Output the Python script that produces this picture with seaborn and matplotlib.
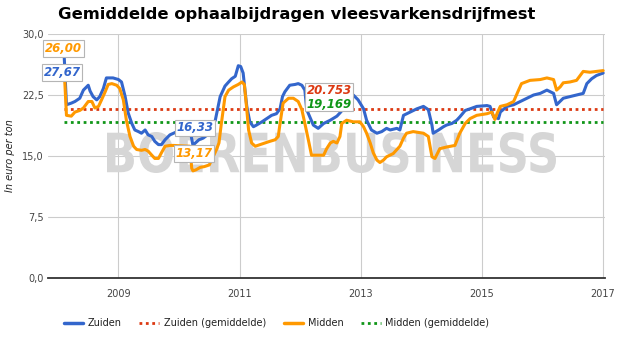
import numpy as np
import pandas as pd
import matplotlib
matplotlib.use("Agg")
import matplotlib.pyplot as plt
import seaborn as sns
from matplotlib.lines import Line2D
from matplotlib.textpath import TextPath
from matplotlib.patches import PathPatch, Rectangle
from matplotlib.font_manager import FontProperties
from matplotlib.transforms import Affine2D

# ---------------- data ----------------
zuiden = [
    (2008.10, 27.67), (2008.14, 21.3), (2008.22, 21.5), (2008.28, 21.7), (2008.36, 22.1),
    (2008.42, 23.1), (2008.50, 23.7), (2008.53, 23.0), (2008.58, 22.3), (2008.64, 21.9),
    (2008.69, 22.3), (2008.75, 23.3), (2008.80, 24.6), (2008.91, 24.6), (2009.00, 24.4),
    (2009.05, 24.1), (2009.11, 22.3), (2009.16, 20.3), (2009.22, 19.0), (2009.27, 18.2),
    (2009.33, 18.0), (2009.38, 17.8), (2009.44, 18.2), (2009.49, 17.6), (2009.55, 17.4),
    (2009.60, 16.8), (2009.66, 16.4), (2009.71, 16.4), (2009.77, 17.0), (2009.85, 17.6),
    (2009.91, 17.8), (2009.97, 18.0), (2010.15, 18.3), (2010.20, 17.5), (2010.23, 16.33),
    (2010.27, 16.6), (2010.33, 17.0), (2010.40, 17.2), (2010.47, 17.6), (2010.54, 18.6),
    (2010.60, 19.4), (2010.68, 22.3), (2010.76, 23.6), (2010.82, 24.1), (2010.87, 24.5),
    (2010.93, 24.8), (2010.98, 26.1), (2011.02, 26.0), (2011.06, 25.2), (2011.09, 23.1),
    (2011.12, 21.1), (2011.17, 19.2), (2011.23, 18.6), (2011.28, 18.8), (2011.37, 19.2),
    (2011.45, 19.6), (2011.53, 20.0), (2011.61, 20.2), (2011.67, 20.8), (2011.71, 22.3),
    (2011.75, 22.9), (2011.83, 23.7), (2011.92, 23.8), (2011.97, 23.9), (2012.03, 23.7),
    (2012.08, 23.1), (2012.11, 20.7), (2012.22, 18.8), (2012.30, 18.4), (2012.39, 19.0),
    (2012.50, 19.4), (2012.61, 19.9), (2012.66, 20.3), (2012.80, 21.5), (2012.88, 22.5),
    (2012.96, 21.9), (2013.05, 20.8), (2013.10, 19.4), (2013.18, 18.2), (2013.27, 17.8),
    (2013.35, 18.0), (2013.43, 18.4), (2013.49, 18.2), (2013.60, 18.4), (2013.65, 18.2),
    (2013.71, 20.0), (2013.82, 20.4), (2013.93, 20.8), (2014.04, 21.1), (2014.12, 20.7),
    (2014.18, 18.8), (2014.20, 17.8), (2014.29, 18.2), (2014.37, 18.6), (2014.42, 18.8),
    (2014.51, 19.0), (2014.59, 19.4), (2014.64, 19.8), (2014.73, 20.6), (2014.81, 20.8),
    (2014.92, 21.1), (2015.09, 21.2), (2015.14, 21.1), (2015.20, 19.8), (2015.28, 19.6),
    (2015.31, 20.4), (2015.42, 21.1), (2015.53, 21.3), (2015.64, 21.7), (2015.75, 22.1),
    (2015.86, 22.5), (2015.97, 22.7), (2016.08, 23.1), (2016.19, 22.7), (2016.24, 21.3),
    (2016.35, 22.1), (2016.46, 22.3), (2016.57, 22.5), (2016.68, 22.7), (2016.74, 23.9),
    (2016.82, 24.5), (2016.90, 24.9), (2017.01, 25.2),
]
midden = [
    (2008.10, 26.0), (2008.14, 20.0), (2008.22, 19.9), (2008.28, 20.4), (2008.36, 20.6),
    (2008.42, 20.9), (2008.50, 21.7), (2008.56, 21.7), (2008.61, 20.9), (2008.67, 21.1),
    (2008.72, 21.9), (2008.78, 22.9), (2008.83, 23.8), (2008.89, 23.9), (2008.97, 23.7),
    (2009.02, 23.3), (2009.08, 21.9), (2009.13, 19.4), (2009.19, 17.4), (2009.25, 16.2),
    (2009.30, 15.8), (2009.38, 15.7), (2009.44, 15.8), (2009.49, 15.6), (2009.55, 15.1),
    (2009.60, 14.7), (2009.66, 14.7), (2009.71, 15.4), (2009.77, 16.2), (2009.85, 16.3),
    (2009.91, 16.3), (2010.18, 16.2), (2010.21, 13.5), (2010.23, 13.17), (2010.28, 13.3),
    (2010.35, 13.6), (2010.42, 13.7), (2010.50, 13.9), (2010.57, 15.0), (2010.62, 15.8),
    (2010.66, 16.6), (2010.70, 19.0), (2010.76, 22.3), (2010.82, 23.1), (2010.90, 23.5),
    (2010.98, 23.8), (2011.04, 24.1), (2011.08, 23.8), (2011.12, 20.7), (2011.15, 18.2),
    (2011.20, 16.6), (2011.26, 16.2), (2011.34, 16.4), (2011.42, 16.6), (2011.50, 16.8),
    (2011.59, 17.0), (2011.64, 17.4), (2011.67, 19.0), (2011.72, 21.5), (2011.81, 22.1),
    (2011.89, 22.1), (2011.97, 21.7), (2012.03, 20.7), (2012.08, 19.0), (2012.14, 16.9),
    (2012.19, 15.1), (2012.28, 15.1), (2012.39, 15.1), (2012.44, 15.9), (2012.50, 16.6),
    (2012.55, 16.8), (2012.61, 16.6), (2012.66, 17.4), (2012.69, 19.0), (2012.77, 19.4),
    (2012.88, 19.2), (2012.99, 19.2), (2013.05, 18.6), (2013.10, 17.8), (2013.16, 16.6),
    (2013.21, 15.4), (2013.27, 14.5), (2013.32, 14.2), (2013.38, 14.5), (2013.43, 14.9),
    (2013.54, 15.3), (2013.65, 16.2), (2013.71, 17.2), (2013.76, 17.8), (2013.87, 18.0),
    (2014.04, 17.8), (2014.12, 17.4), (2014.18, 14.9), (2014.23, 14.7), (2014.31, 15.9),
    (2014.42, 16.1), (2014.56, 16.3), (2014.64, 17.8), (2014.73, 19.0), (2014.81, 19.6),
    (2014.92, 20.0), (2015.09, 20.2), (2015.17, 20.4), (2015.22, 19.5), (2015.26, 20.3),
    (2015.31, 21.1), (2015.42, 21.3), (2015.53, 21.7), (2015.60, 22.9), (2015.66, 23.9),
    (2015.80, 24.3), (2015.97, 24.4), (2016.08, 24.6), (2016.19, 24.4), (2016.24, 23.1),
    (2016.30, 23.5), (2016.35, 24.0), (2016.46, 24.1), (2016.57, 24.3), (2016.68, 25.4),
    (2016.79, 25.3), (2016.90, 25.4), (2017.01, 25.5),
]
zuiden_gemiddelde = 20.753
midden_gemiddelde = 19.169

reeksen = ["Zuiden", "Zuiden (gemiddelde)", "Midden", "Midden (gemiddelde)"]
kleuren = {"Zuiden": "#3366cc", "Zuiden (gemiddelde)": "#dc3912",
           "Midden": "#ff9900", "Midden (gemiddelde)": "#109618"}
x_ticks = [2009, 2011, 2013, 2015, 2017]
x_labels = ["2009", "2011", "2013", "2015", "2017"]
y_ticks = [0, 7.5, 15, 22.5, 30]
y_labels = ["0,0", "7,5", "15,0", "22,5", "30,0"]
titel = "Gemiddelde ophaalbijdragen vleesvarkensdrijfmest"
ylabel = "In euro per ton"

# ---------------- figure ----------------
sns.set_theme(style="white")
plt.rcParams['font.family'] = ['DejaVu Sans']

W, H = 626, 346
fig = plt.figure(figsize=(W / 100, H / 100), dpi=100)
ax = fig.add_axes([48 / W, 1 - 278 / H, (605 - 48) / W, (278 - 34) / H])

rows = [("Zuiden", j, v) for j, v in zuiden] + [("Midden", j, v) for j, v in midden]
df = pd.DataFrame(rows, columns=["reeks", "jaar", "waarde"])

# watermark
wm_font = FontProperties(family="DejaVu Sans", weight="bold")
tp = TextPath((0, 0), "BOERENBUSINESS", size=1, prop=wm_font)
ext = tp.get_extents()
sx = (556 - 107) / ext.width
sy = (173 - 132) / ext.height
tr = Affine2D().translate(-ext.x0, -ext.y0).scale(sx, sy).translate(107, H - 173)
wm = PathPatch(tp, facecolor="#d6d6d6", edgecolor="none", transform=tr, zorder=1)
ax.add_artist(wm)

# average lines
x0, x1 = zuiden[0][0], zuiden[-1][0]
ax.plot([x0, x1], [zuiden_gemiddelde] * 2, color=kleuren["Zuiden (gemiddelde)"],
        lw=2.0, linestyle=(0, (1, 1.3)), zorder=2.5)
ax.plot([x0, x1], [midden_gemiddelde] * 2, color=kleuren["Midden (gemiddelde)"],
        lw=2.0, linestyle=(0, (1, 1.3)), zorder=2.5)

sns.lineplot(data=df, x="jaar", y="waarde", hue="reeks", palette=kleuren,
             hue_order=["Zuiden", "Midden"], estimator=None, linewidth=2.2,
             legend=False, ax=ax, zorder=3)

ax.set_xlim(2007.835, 2017.04)
ax.set_ylim(0, 30)
ax.set_xticks(x_ticks)
ax.set_xticklabels(x_labels)
ax.set_yticks(y_ticks)
ax.set_yticklabels(y_labels)
ax.set_xlabel("")
ax.set_ylabel("")
ax.set_axisbelow(True)
ax.grid(True, color="#cccccc", lw=0.8)
for s in ["left", "right", "top"]:
    ax.spines[s].set_visible(False)
ax.spines["bottom"].set_color("#333333")
ax.spines["bottom"].set_linewidth(1.3)
ax.spines["bottom"].set_zorder(4)
ax.tick_params(axis="both", length=0, labelsize=7, colors="#444444")
ax.tick_params(axis="x", pad=8)
ax.tick_params(axis="y", pad=3)

# annotations
bb = dict(boxstyle="square,pad=0.15", fc="white", ec="#b5b5b5", lw=0.8)
lab = dict(fontsize=8.5, fontweight="bold", style="italic", ha="center", va="center",
           zorder=6, bbox=bb)
ax.text(2008.091, 28.23, "26,00", color=kleuren["Midden"], **lab)
ax.text(2008.066, 25.28, "27,67", color=kleuren["Zuiden"], **lab)
ax.text(2010.264, 18.45, "16,33", color=kleuren["Zuiden"], **lab)
ax.text(2010.248, 15.31, "13,17", color=kleuren["Midden"], **lab)
ax.add_patch(Rectangle((2012.08, 20.54), 0.80, 3.45, fc="white", ec="#b5b5b5",
                       lw=0.8, zorder=5))
lab2 = dict(fontsize=8.5, fontweight="bold", style="italic", ha="center", va="center", zorder=6)
ax.text(2012.479, 23.0, "20.753", color=kleuren["Zuiden (gemiddelde)"], **lab2)
ax.text(2012.479, 21.34, "19,169", color=kleuren["Midden (gemiddelde)"], **lab2)

# title and y label
fig.text(58 / W, 1 - 14 / H, titel, fontsize=11.8, fontweight="bold", ha="left",
         va="center", color="black")
fig.text(10 / W, 1 - 156 / H, ylabel, fontsize=7, style="italic", rotation=90,
         ha="center", va="center", color="#222222")

# legend
handles = [
    Line2D([], [], color=kleuren["Zuiden"], lw=2.5),
    Line2D([], [], color=kleuren["Zuiden (gemiddelde)"], lw=2.0, linestyle=(0, (1, 1.3))),
    Line2D([], [], color=kleuren["Midden"], lw=2.5),
    Line2D([], [], color=kleuren["Midden (gemiddelde)"], lw=2.0, linestyle=(0, (1, 1.3))),
]
fig.legend(handles, reeksen, loc="center", bbox_to_anchor=(276.5 / W, 1 - 323 / H),
           ncol=4, frameon=False, fontsize=7, handlelength=2.0, handletextpad=0.5,
           columnspacing=1.8, labelcolor="#222222")

fig.savefig("out.png", dpi=100)
